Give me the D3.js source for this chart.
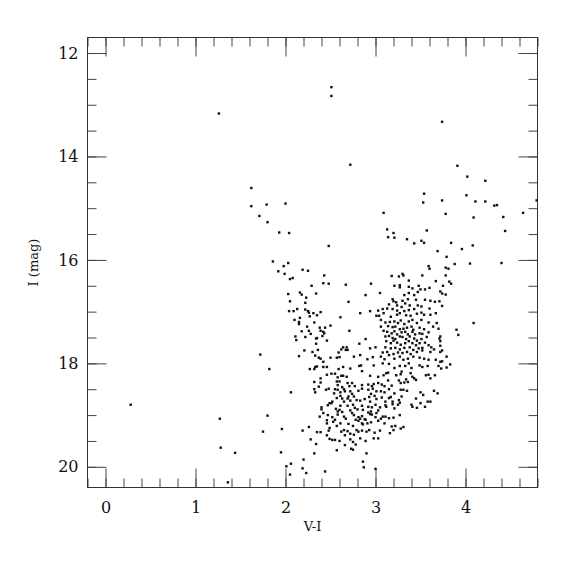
<!DOCTYPE html>
<html>
<head>
<meta charset="utf-8">
<script src="https://cdn.jsdelivr.net/npm/d3@7"></script>
<style>
  body { margin: 0; background: #fff; }
  text { font-family: "DejaVu Serif", serif; fill: #111; }
</style>
</head>
<body>
<script>
// Set up size
var width = 575;
var height = 575;
var plot = { left: 87.5, top: 37.5, size: 450 };

// tick values
var xMajor = [0, 1, 2, 3, 4];
var xMinor = d3.range(-0.2, 4.81, 0.2).map(function (d) { return +d.toFixed(1); });
var yMajor = [12, 14, 16, 18, 20];
var yMinor = d3.range(12, 20.41, 0.5);

// stars: [V-I, I]
var brightStars = [
  [2.51, 12.66], [2.51, 12.83], [1.26, 13.17], [3.74, 13.33], [2.72, 14.16], [3.91, 14.18],
  [4.02, 14.39], [4.22, 14.47], [1.62, 14.61], [3.54, 14.72], [3.53, 14.89], [3.74, 14.85],
  [4.01, 14.75], [4.11, 14.87], [4.22, 14.87], [4.32, 14.95], [4.35, 14.94], [4.79, 14.85],
  [1.62, 14.96], [1.79, 14.93], [2.00, 14.91], [1.71, 15.15], [1.80, 15.27], [1.93, 15.47],
  [2.04, 15.48], [2.48, 15.73], [3.09, 15.09], [3.78, 15.11], [4.09, 15.18], [4.42, 15.17],
  [4.64, 15.09], [3.13, 15.41], [3.20, 15.48], [3.14, 15.56], [3.21, 15.57], [3.57, 15.43],
  [4.44, 15.44], [3.35, 15.60], [3.43, 15.68], [3.51, 15.63], [3.54, 15.67], [3.84, 15.67],
  [4.08, 15.72], [3.69, 15.83], [3.96, 15.79], [3.79, 15.94], [1.86, 16.03], [2.03, 16.06],
  [1.98, 16.12]
];

var redSide = [
  [3.88, 16.08], [4.05, 16.07], [4.40, 16.06], [3.78, 16.15], [3.81, 16.17], [3.78, 16.30],
  [3.82, 16.42], [3.84, 16.46], [3.75, 16.50], [3.72, 16.61], [3.74, 16.65], [3.78, 16.67],
  [3.74, 16.89], [4.09, 17.22], [3.90, 17.35], [3.92, 17.45], [3.72, 17.48], [3.72, 17.57],
  [3.72, 17.66], [3.74, 17.75], [3.79, 17.87], [3.74, 17.96], [3.72, 17.97], [3.83, 18.02],
  [3.79, 18.08], [3.73, 18.10]
];

var blueEdge = [
  [0.28, 18.80], [1.27, 19.07], [1.28, 19.63], [1.44, 19.73], [1.36, 20.30],
  [2.05, 20.15], [2.23, 20.12], [2.44, 20.09]
];

var midBright = [
  [1.92, 16.22], [1.99, 16.27], [2.19, 16.19], [2.25, 16.21], [2.43, 16.30], [2.05, 16.37],
  [2.08, 16.35], [2.29, 16.50], [2.42, 16.45], [2.48, 16.46], [2.03, 16.66], [2.16, 16.63],
  [2.18, 16.67], [2.34, 16.65], [2.23, 16.73], [2.05, 16.80], [2.22, 16.83], [2.04, 16.99],
  [2.09, 16.99], [2.13, 16.95], [2.22, 16.96], [2.25, 16.99], [2.26, 17.02], [2.31, 17.03],
  [2.39, 17.01], [2.16, 17.12], [2.27, 17.09], [2.35, 17.07], [2.10, 17.16], [2.15, 17.20],
  [2.15, 17.24], [2.32, 17.21], [2.24, 17.29], [2.38, 17.31], [2.44, 17.31], [2.50, 17.27],
  [2.26, 17.37], [2.39, 17.37], [2.42, 17.39], [2.18, 17.38], [2.28, 17.43], [2.41, 17.47],
  [2.43, 17.42], [2.11, 17.48], [2.22, 17.49], [2.35, 17.51], [2.34, 17.52], [2.46, 17.56],
  [2.12, 17.55], [2.34, 17.62], [2.21, 17.75], [2.30, 17.78], [2.36, 17.74], [2.59, 17.79],
  [1.72, 17.83], [2.15, 17.86], [2.33, 17.85], [2.37, 17.89], [2.39, 17.91], [2.42, 17.97],
  [2.50, 17.89], [2.57, 17.89], [2.60, 17.88], [1.82, 18.11], [2.33, 18.07], [2.35, 18.06],
  [2.42, 18.07], [2.46, 18.07], [2.27, 18.11], [2.32, 18.11], [2.59, 18.11]
];

var clumpRed = [
  [3.59, 16.12], [3.60, 16.17], [3.67, 16.41], [2.67, 16.48], [2.95, 16.46], [3.18, 16.31],
  [3.26, 16.32], [3.30, 16.27], [3.31, 16.30], [3.37, 16.40], [3.52, 16.30], [3.21, 16.50],
  [3.27, 16.49], [3.27, 16.53], [3.37, 16.52], [3.48, 16.50], [3.50, 16.57], [3.41, 16.55],
  [3.47, 16.62], [3.55, 16.57], [3.60, 16.54], [2.89, 16.68], [3.05, 16.64], [3.32, 16.68],
  [3.37, 16.64], [3.43, 16.68], [2.70, 16.81], [3.19, 16.76], [3.20, 16.80], [3.15, 16.86],
  [3.23, 16.82], [3.24, 16.88], [3.30, 16.79], [3.33, 16.84], [3.36, 16.76], [3.38, 16.88],
  [3.45, 16.77], [3.55, 16.77], [3.61, 16.79], [3.66, 16.81], [3.71, 16.80], [3.29, 16.91],
  [3.47, 16.88], [3.51, 16.90], [2.83, 17.03], [2.94, 16.99], [3.03, 16.98], [3.08, 16.95],
  [3.09, 17.03], [3.13, 16.94], [3.19, 16.95], [3.24, 16.98], [3.27, 17.03], [3.32, 16.99],
  [3.37, 16.97], [3.43, 16.95], [3.51, 17.02], [3.60, 16.94], [3.67, 17.03], [3.01, 17.08],
  [3.04, 17.08], [3.17, 17.10], [3.24, 17.06], [3.34, 17.07], [3.39, 17.08], [3.46, 17.04],
  [3.54, 17.06], [3.61, 17.06], [2.61, 17.11], [3.06, 17.16], [3.11, 17.21], [3.16, 17.20],
  [3.21, 17.19], [3.25, 17.22], [3.28, 17.17], [3.32, 17.24], [3.37, 17.19], [3.41, 17.16],
  [3.46, 17.22], [3.51, 17.16], [3.59, 17.21], [3.68, 17.22], [3.06, 17.29], [3.14, 17.28],
  [3.19, 17.30], [3.22, 17.29], [3.27, 17.34], [3.31, 17.33], [3.35, 17.31], [3.40, 17.29],
  [3.42, 17.35], [3.49, 17.31], [3.54, 17.34], [3.64, 17.29], [3.70, 17.33], [2.71, 17.37],
  [3.09, 17.37], [3.13, 17.39], [3.18, 17.42], [3.21, 17.38], [3.24, 17.44], [3.29, 17.40],
  [3.33, 17.39], [3.36, 17.44], [3.41, 17.39], [3.44, 17.44], [3.49, 17.42], [3.52, 17.43],
  [3.59, 17.40], [3.11, 17.48], [3.15, 17.47], [3.19, 17.51], [3.22, 17.53], [3.27, 17.48],
  [3.30, 17.49], [3.34, 17.53], [3.38, 17.48], [3.43, 17.52], [3.46, 17.56], [3.51, 17.53],
  [3.57, 17.49], [3.71, 17.52], [3.12, 17.57], [3.17, 17.61], [3.20, 17.56], [3.24, 17.60],
  [3.28, 17.64], [3.33, 17.61], [3.37, 17.57], [3.41, 17.61], [3.45, 17.65], [3.49, 17.61],
  [3.55, 17.60], [3.59, 17.65], [2.82, 17.62], [2.89, 17.53], [2.68, 17.69], [2.62, 17.73],
  [2.64, 17.69], [2.67, 17.74], [2.69, 17.74], [2.94, 17.71], [3.00, 17.69], [3.11, 17.69],
  [3.17, 17.71], [3.22, 17.70], [3.27, 17.73], [3.32, 17.70], [3.38, 17.69], [3.42, 17.74],
  [3.48, 17.71], [3.52, 17.70], [3.62, 17.69], [3.65, 17.73], [3.08, 17.79], [3.13, 17.78],
  [3.20, 17.82], [3.25, 17.79], [3.30, 17.80], [3.35, 17.78], [3.39, 17.82], [3.46, 17.78],
  [3.52, 17.75], [3.61, 17.78], [3.72, 17.78], [2.76, 17.87], [2.83, 17.84], [2.91, 17.92],
  [2.97, 17.88], [3.06, 17.87], [3.10, 17.92], [3.15, 17.84], [3.21, 17.91], [3.27, 17.87],
  [3.31, 17.93], [3.36, 17.91], [3.42, 17.87], [3.49, 17.89], [3.54, 17.91], [3.59, 17.93],
  [3.67, 17.93], [2.64, 18.07], [2.72, 18.10], [2.82, 18.05], [2.84, 18.04], [2.98, 18.04],
  [3.08, 18.00], [3.15, 18.01], [3.21, 18.09], [3.27, 18.05], [3.33, 18.05], [3.37, 18.00],
  [3.40, 18.09], [3.49, 18.04], [3.52, 18.07], [3.58, 18.05], [3.70, 18.05]
];

var midFaint = [
  [2.46, 18.22], [2.39, 18.29], [2.32, 18.36], [2.39, 18.37], [2.37, 18.45], [2.48, 18.49],
  [2.45, 18.51], [2.32, 18.50], [2.33, 18.56], [2.06, 18.56], [2.49, 18.77], [2.47, 18.81],
  [2.40, 18.85], [2.40, 18.89], [2.42, 18.96], [2.47, 19.00], [2.38, 19.03], [2.46, 19.10],
  [2.46, 19.16], [1.80, 19.01], [1.75, 19.32], [1.96, 19.27], [2.19, 19.30], [2.26, 19.23],
  [2.35, 19.33], [2.39, 19.33], [2.49, 19.25], [2.48, 19.30], [2.46, 19.39], [2.28, 19.47],
  [2.34, 19.56], [1.95, 19.72], [2.32, 19.74], [2.20, 19.86], [2.06, 19.94], [2.01, 19.99],
  [2.19, 20.03]
];

var clumpFaint = [
  [2.51, 18.20], [2.55, 18.20], [2.58, 18.27], [2.62, 18.24], [2.64, 18.24], [2.68, 18.26],
  [2.85, 18.15], [2.94, 18.24], [3.03, 18.26], [3.09, 18.23], [3.12, 18.19], [3.14, 18.18],
  [3.23, 18.23], [3.28, 18.21], [3.29, 18.16], [3.39, 18.19], [3.41, 18.26], [3.43, 18.29],
  [3.56, 18.23], [3.59, 18.22], [3.61, 18.29], [3.66, 18.23], [2.57, 18.35], [2.60, 18.35],
  [2.58, 18.42], [2.63, 18.46], [2.69, 18.38], [2.74, 18.38], [2.77, 18.44], [2.71, 18.44],
  [2.85, 18.42], [2.92, 18.41], [2.96, 18.44], [2.98, 18.40], [3.03, 18.38], [3.07, 18.41],
  [3.10, 18.44], [3.14, 18.33], [3.18, 18.43], [3.26, 18.33], [3.28, 18.38], [3.32, 18.37],
  [3.34, 18.31], [3.36, 18.36], [3.45, 18.32], [2.55, 18.50], [2.58, 18.51], [2.54, 18.58],
  [2.61, 18.56], [2.65, 18.50], [2.66, 18.54], [2.72, 18.54], [2.74, 18.59], [2.81, 18.53],
  [2.85, 18.49], [2.92, 18.51], [2.95, 18.59], [2.97, 18.49], [3.01, 18.54], [3.06, 18.54],
  [3.10, 18.56], [3.15, 18.50], [3.21, 18.58], [3.28, 18.51], [3.31, 18.51], [3.35, 18.53],
  [3.50, 18.56], [3.53, 18.61], [3.65, 18.53], [3.69, 18.58], [2.52, 18.74], [2.57, 18.67],
  [2.61, 18.63], [2.63, 18.68], [2.65, 18.74], [2.69, 18.68], [2.70, 18.64], [2.72, 18.72],
  [2.76, 18.64], [2.79, 18.71], [2.83, 18.72], [2.88, 18.69], [2.93, 18.65], [2.94, 18.74],
  [2.99, 18.63], [3.01, 18.69], [3.07, 18.66], [3.11, 18.74], [3.15, 18.67], [3.17, 18.65],
  [3.19, 18.74], [3.26, 18.71], [3.27, 18.76], [3.29, 18.64], [3.45, 18.68], [3.50, 18.77],
  [3.58, 18.74], [3.61, 18.74], [2.51, 18.77], [2.56, 18.88], [2.58, 18.93], [2.60, 18.90],
  [2.61, 18.82], [2.63, 18.94], [2.69, 18.82], [2.72, 18.91], [2.75, 18.80], [2.77, 18.86],
  [2.80, 18.89], [2.85, 18.82], [2.86, 18.90], [2.92, 18.84], [2.95, 18.93], [2.96, 18.85],
  [3.00, 18.80], [3.03, 18.91], [3.05, 18.85], [3.11, 18.81], [3.12, 18.84], [3.19, 18.79],
  [3.21, 18.87], [3.25, 18.80], [3.40, 18.80], [3.41, 18.84], [3.46, 18.86], [3.55, 18.84],
  [2.52, 19.04], [2.55, 19.09], [2.58, 18.99], [2.65, 19.03], [2.67, 19.07], [2.74, 18.96],
  [2.76, 19.00], [2.81, 19.04], [2.83, 19.07], [2.85, 19.02], [2.88, 19.08], [2.92, 18.95],
  [2.94, 18.98], [2.96, 18.99], [3.00, 19.04], [3.01, 18.96], [3.06, 19.07], [3.08, 19.03],
  [3.11, 19.03], [3.15, 19.06], [3.20, 19.05], [3.27, 19.00], [2.53, 19.13], [2.57, 19.21],
  [2.61, 19.16], [2.70, 19.17], [2.75, 19.21], [2.78, 19.09], [2.81, 19.11], [2.85, 19.16],
  [2.86, 19.18], [2.89, 19.09], [2.91, 19.16], [2.95, 19.14], [3.03, 19.11], [3.10, 19.16],
  [3.18, 19.22], [3.22, 19.21], [3.28, 19.26], [3.31, 19.23], [2.62, 19.32], [2.65, 19.29],
  [2.66, 19.39], [2.69, 19.31], [2.72, 19.36], [2.76, 19.38], [2.79, 19.29], [2.81, 19.32],
  [2.85, 19.30], [2.90, 19.32], [2.93, 19.29], [2.99, 19.34], [3.05, 19.30], [3.16, 19.35],
  [3.20, 19.29], [2.49, 19.46], [2.52, 19.48], [2.55, 19.48], [2.60, 19.50], [2.66, 19.58],
  [2.72, 19.47], [2.75, 19.52], [2.78, 19.57], [2.83, 19.45], [2.89, 19.50], [2.98, 19.45],
  [3.03, 19.45], [2.57, 19.68], [2.73, 19.65], [2.75, 19.67], [2.90, 19.74], [2.86, 19.90],
  [2.87, 20.01], [3.00, 20.04]
];

var stars = [].concat(brightStars, redSide, blueEdge, midBright, clumpRed, midFaint, clumpFaint);

// scales
var x = d3.scaleLinear().domain([-0.2, 4.8]).range([plot.left, plot.left + plot.size]);
var y = d3.scaleLinear().domain([11.7, 20.4]).range([plot.top, plot.top + plot.size]);

var svg = d3.select('body').append('svg')
  .attr('width', width)
  .attr('height', height);

// axes with inward ticks on all four sides
function styleAxis(g) {
  g.select('.domain').remove();
  g.selectAll('line').attr('stroke', '#444');
  g.selectAll('text').style('font-size', '16px').attr('fill', '#111');
}

var bottom = plot.top + plot.size;
var right = plot.left + plot.size;

svg.append('g').attr('transform', 'translate(0,' + bottom + ')')
  .call(d3.axisBottom(x).tickValues(xMinor).tickSize(-9).tickFormat(''))
  .call(styleAxis);
svg.append('g').attr('transform', 'translate(0,' + bottom + ')')
  .call(d3.axisBottom(x).tickValues(xMajor).tickSize(-19).tickPadding(14).tickFormat(d3.format('d')))
  .call(styleAxis);
svg.append('g').attr('transform', 'translate(0,' + plot.top + ')')
  .call(d3.axisTop(x).tickValues(xMinor).tickSize(-9).tickFormat(''))
  .call(styleAxis);
svg.append('g').attr('transform', 'translate(0,' + plot.top + ')')
  .call(d3.axisTop(x).tickValues(xMajor).tickSize(-19).tickFormat(''))
  .call(styleAxis);

svg.append('g').attr('transform', 'translate(' + plot.left + ',0)')
  .call(d3.axisLeft(y).tickValues(yMinor).tickSize(-9).tickFormat(''))
  .call(styleAxis);
svg.append('g').attr('transform', 'translate(' + plot.left + ',0)')
  .call(d3.axisLeft(y).tickValues(yMajor).tickSize(-19).tickPadding(9).tickFormat(d3.format('d')))
  .call(styleAxis);
svg.append('g').attr('transform', 'translate(' + right + ',0)')
  .call(d3.axisRight(y).tickValues(yMinor).tickSize(-9).tickFormat(''))
  .call(styleAxis);
svg.append('g').attr('transform', 'translate(' + right + ',0)')
  .call(d3.axisRight(y).tickValues(yMajor).tickSize(-19).tickFormat(''))
  .call(styleAxis);

// frame
svg.append('rect')
  .attr('x', plot.left)
  .attr('y', plot.top)
  .attr('width', plot.size)
  .attr('height', plot.size)
  .attr('fill', 'none')
  .attr('stroke', '#333');

// stars
svg.append('g').selectAll('rect')
  .data(stars)
  .enter()
  .append('rect')
  .attr('x', function (d) { return x(d[0]) - 1.2; })
  .attr('y', function (d) { return y(d[1]) - 1.2; })
  .attr('width', 2.4)
  .attr('height', 2.4)
  .attr('fill', '#111');

// axis titles
svg.append('text')
  .attr('x', plot.left + plot.size / 2)
  .attr('y', 531)
  .attr('text-anchor', 'middle')
  .style('font-size', '13px')
  .text('V-I');

svg.append('text')
  .attr('transform', 'translate(38,' + (plot.top + plot.size / 2) + ') rotate(-90)')
  .attr('text-anchor', 'middle')
  .style('font-size', '13px')
  .text('I (mag)');
</script>
</body>
</html>
